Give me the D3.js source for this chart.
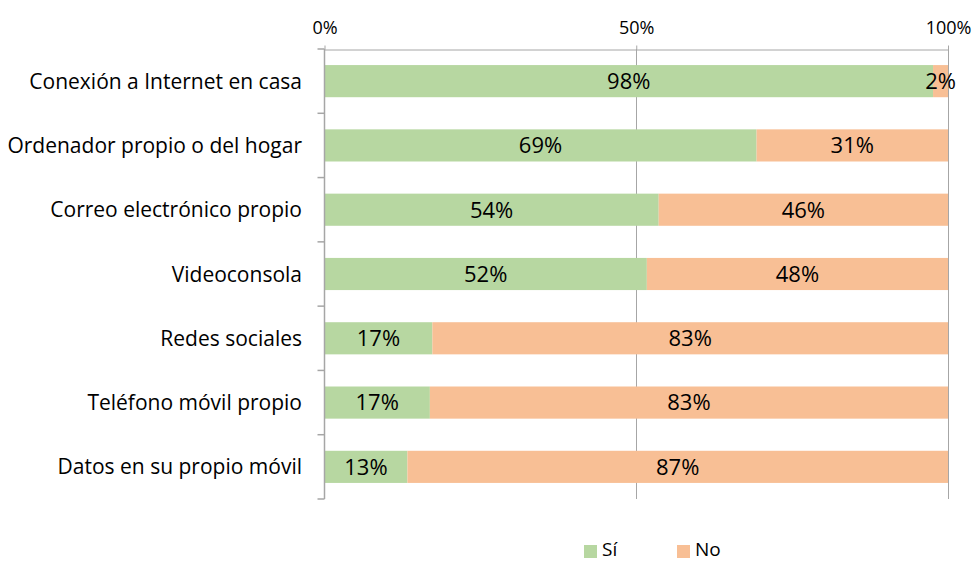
<!DOCTYPE html>
<html>
<head>
<meta charset="utf-8">
<script src="https://cdn.jsdelivr.net/npm/d3@7"></script>
<style>
  html, body { margin: 0; padding: 0; background: #fff; }
  svg { display: block; font-family: "Open Sans", Lato, sans-serif; }
</style>
</head>
<body>
<svg id="chart" width="975" height="562"></svg>
<script>
const categories = [
  "Conexión a Internet en casa",
  "Ordenador propio o del hogar",
  "Correo electrónico propio",
  "Videoconsola",
  "Redes sociales",
  "Teléfono móvil propio",
  "Datos en su propio móvil"
];
const siValues = [97.6, 69.3, 53.6, 51.7, 17.3, 16.9, 13.3];
const noValues = [2.4, 30.7, 46.4, 48.3, 82.7, 83.1, 86.7];
const seriesNames = ["Sí", "No"];
const seriesColors = ["#b7d7a1", "#f8bf95"];
const tickValues = [0, 50, 100];

const svg = d3.select("#chart");
const margin = {left: 324.5, right: 27, top: 49, bottom: 63};
const W = 975, H = 562;

const x = d3.scaleLinear().domain([0, 100]).range([margin.left, W - margin.right]);
const y = d3.scaleBand().domain(categories).range([margin.top, H - margin.bottom]).paddingInner(0.5).paddingOuter(0.25);

const gridColor = "#a6a6a6";

// gridlines
svg.append("g").selectAll("line").data(tickValues.slice(1)).join("line")
  .attr("x1", d => Math.round(x(d)) + 0.5).attr("x2", d => Math.round(x(d)) + 0.5)
  .attr("y1", margin.top).attr("y2", H - margin.bottom)
  .attr("stroke", gridColor).attr("stroke-width", 1);

// stacked data
const rows = categories.map((c, i) => ({cat: c, Sí: siValues[i], No: noValues[i]}));
const stack = d3.stack().keys(seriesNames)(rows);

const g = svg.append("g");
stack.forEach((layer, li) => {
  g.append("g").selectAll("rect").data(layer).join("rect")
    .attr("x", d => x(d[0]))
    .attr("width", d => x(d[1]) - x(d[0]))
    .attr("y", d => y(d.data.cat))
    .attr("height", y.bandwidth())
    .attr("fill", seriesColors[li]);
});

// data labels
stack.forEach((layer, li) => {
  g.append("g").selectAll("text").data(layer).join("text")
    .attr("x", d => (x(d[0]) + x(d[1])) / 2)
    .attr("y", d => y(d.data.cat) + y.bandwidth() / 2)
    .attr("dy", "0.36em")
    .attr("text-anchor", "middle")
    .attr("font-size", 22)
    .attr("fill", "#000")
    .text(d => Math.round(d[1] - d[0]) + "%");
});

// top axis
const xAxis = d3.axisTop(x).tickValues(tickValues).tickFormat(d => d + "%").tickSize(4).tickSizeOuter(0);
const xa = svg.append("g").attr("transform", `translate(0,${margin.top + 0.5})`).call(xAxis);
xa.select(".domain").attr("stroke", gridColor);
xa.selectAll(".tick line").attr("stroke", gridColor);
xa.selectAll(".tick text").attr("font-size", 18).attr("font-family", "'Open Sans', sans-serif").attr("fill", "#000").attr("dy", "-0.45em");

// left axis line with ticks at band boundaries
const la = svg.append("g");
la.append("line")
  .attr("x1", margin.left).attr("x2", margin.left)
  .attr("y1", margin.top).attr("y2", H - margin.bottom)
  .attr("stroke", gridColor).attr("stroke-width", 1.5);
const boundaries = d3.range(categories.length + 1).map(i => margin.top + i * (H - margin.top - margin.bottom) / categories.length);
la.selectAll("line.tk").data(boundaries).join("line").attr("class", "tk")
  .attr("x1", margin.left - 7).attr("x2", margin.left)
  .attr("y1", d => d).attr("y2", d => d)
  .attr("stroke", gridColor).attr("stroke-width", 1.5);

la.selectAll("text").data(categories).join("text")
  .attr("x", 302)
  .attr("y", d => y(d) + y.bandwidth() / 2)
  .attr("dy", "0.36em")
  .attr("text-anchor", "end")
  .attr("font-size", 21)
  .attr("fill", "#000")
  .text(d => d);

// legend
const legend = svg.append("g");
const legendX = [584, 677];
seriesNames.forEach((s, i) => {
  legend.append("rect").attr("x", legendX[i]).attr("y", 545).attr("width", 13).attr("height", 13).attr("fill", seriesColors[i]);
  legend.append("text").attr("x", legendX[i] + 18).attr("y", 556)
    .attr("font-size", 19).attr("fill", "#000").text(s);
});
</script>
</body>
</html>
